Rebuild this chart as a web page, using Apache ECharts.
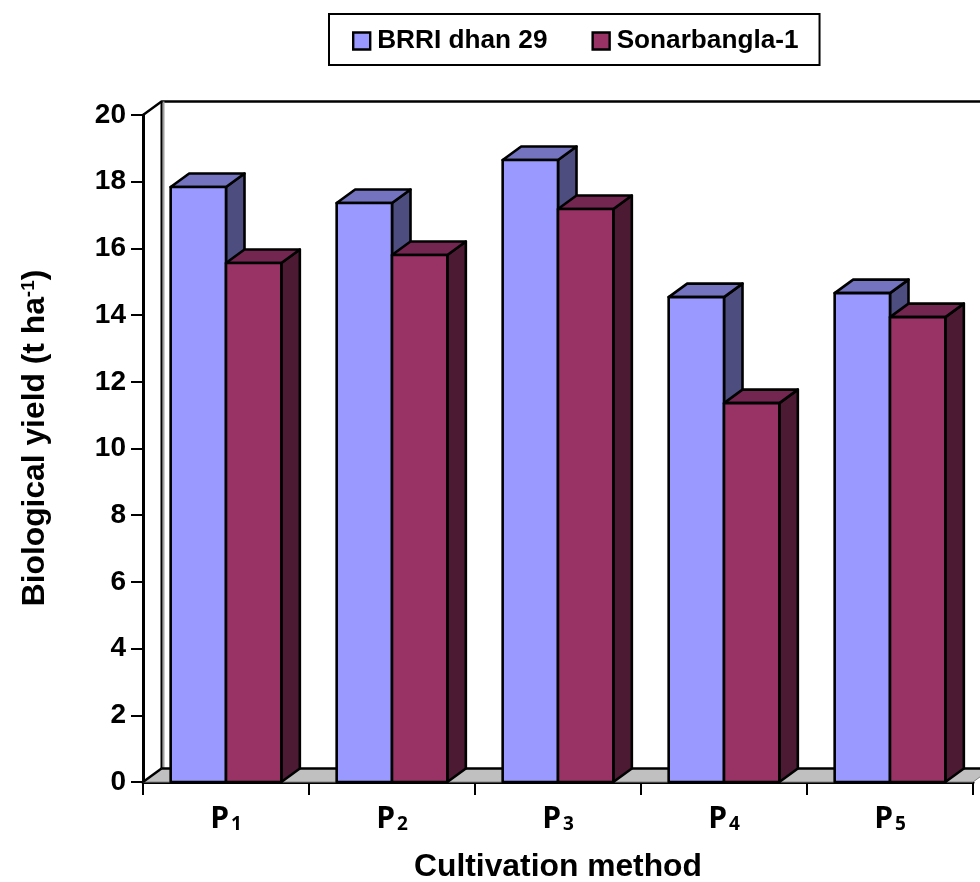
<!DOCTYPE html>
<html><head><meta charset="utf-8">
<style>html,body{margin:0;padding:0;background:#fff}#c{width:980px;height:882px}</style>
<script src="https://cdn.jsdelivr.net/npm/echarts@6/dist/echarts.min.js"></script>
</head><body><div id="c"></div>
<script>
const categories = ['P1','P2','P3','P4','P5'];
const brri = [17.84,17.36,18.65,14.54,14.66];
const sonar = [15.56,15.8,17.18,11.36,13.94];
const seriesNames = ['BRRI dhan 29','Sonarbangla-1'];
const DX = 18.5, DY = -13.5;
const FONT = '"Liberation Sans", Arial, sans-serif';

function box(side, front, top, dark) {
  return function (params, api) {
    const i = api.value(0);
    const p = api.coord([i, api.value(1)]);
    const b = api.coord([i, 0]);
    const w = api.size([1, 0])[0] / 3;
    const x0 = side < 0 ? p[0] - w : p[0];
    const x1 = x0 + w;
    const ln = {stroke:'#000', lineWidth:2.6, lineJoin:'round'};
    const poly = (pts, fill) => ({type:'polygon', shape:{points:pts}, style:Object.assign({fill}, ln)});
    return {type:'group', children:[
      poly([[x1,b[1]],[x1+DX,b[1]+DY],[x1+DX,p[1]+DY],[x1,p[1]]], dark),
      poly([[x0,p[1]],[x0+DX,p[1]+DY],[x1+DX,p[1]+DY],[x1,p[1]]], top),
      poly([[x0,b[1]],[x0,p[1]],[x1,p[1]],[x1,b[1]]], front)
    ]};
  };
}
function walls(params) {
  const r = params.coordSys;
  const L = r.x, T = r.y, B = r.y + r.height, R = r.x + r.width;
  const black = {stroke:'#000', lineWidth:2.4, fill:null, lineJoin:'round'};
  return {type:'group', children:[
    {type:'polygon', shape:{points:[[L,B],[L+DX,B+DY],[R+DX,B+DY],[R,B]]}, style:{fill:'#c0c0c0', stroke:'#808080', lineWidth:1}},
    {type:'polyline', shape:{points:[[L,T],[L+DX,T+DY],[R+DX+20,T+DY]]}, style:black},
    {type:'line', shape:{x1:L+DX+2,y1:T+DY,x2:L+DX+2,y2:B+DY}, style:{stroke:'#a0a0a0', lineWidth:2}},
    {type:'line', shape:{x1:L+DX,y1:T+DY,x2:L+DX,y2:B+DY}, style:{stroke:'#000', lineWidth:2}},
    {type:'line', shape:{x1:L+DX,y1:B+DY,x2:R+DX,y2:B+DY}, style:{stroke:'#000', lineWidth:2.4}},
    {type:'line', shape:{x1:L,y1:B,x2:L+DX,y2:B+DY}, style:{stroke:'#000', lineWidth:2.4}}
  ]};
}

const chart = echarts.init(document.getElementById('c'), null, {renderer:'canvas'});
chart.setOption({
  animation:false,
  backgroundColor:'#fff',
  legend:{
    data:seriesNames, left:329, top:14, icon:'rect',
    itemWidth:17, itemHeight:17, itemGap:44,
    padding:[12,21,9,23], borderColor:'#000', borderWidth:2,
    itemStyle:{borderColor:'#000', borderWidth:2.4},
    textStyle:{fontFamily:FONT, fontWeight:'bold', fontSize:26.2, color:'#000', lineHeight:30, padding:[0,0,0,2]},
    selectedMode:false
  },
  grid:{left:143, top:115, width:830, height:667, containLabel:false, outerBoundsMode:'none'},
  xAxis:{
    type:'category', data:categories,
    name:'Cultivation method', nameLocation:'middle', nameGap:69,
    nameTextStyle:{fontFamily:FONT, fontWeight:'bold', fontSize:31.8, color:'#000'},
    axisLine:{lineStyle:{color:'#000', width:3}},
    axisTick:{show:true, length:13, lineStyle:{color:'#000', width:2}},
    axisLabel:{
      margin:22, interval:0,
      formatter:v => '{p|' + v[0] + '}{s|' + v.slice(1) + '}',
      rich:{
        p:{fontFamily:'"Open Sans"', fontWeight:700, fontSize:30, color:'#000', verticalAlign:'bottom'},
        s:{fontFamily:'"Open Sans"', fontWeight:700, fontSize:19, color:'#000', verticalAlign:'bottom', padding:[0,0,0,2]}
      }
    }
  },
  yAxis:{
    type:'value', min:0, max:20, interval:2,
    name:'{t|Biological yield (t ha}{u|-1}{t|)}', nameLocation:'middle', nameGap:92, nameRotate:90,
    nameTextStyle:{
      padding:[0,0,0,21],
      rich:{
        t:{fontFamily:FONT, fontWeight:'bold', fontSize:31.8, color:'#000', verticalAlign:'bottom'},
        u:{fontFamily:FONT, fontWeight:'bold', fontSize:19, color:'#000', verticalAlign:'top'}
      }
    },
    axisLine:{show:true, lineStyle:{color:'#000', width:3}},
    axisTick:{show:true, length:12, lineStyle:{color:'#000', width:2}},
    axisLabel:{margin:17, fontFamily:FONT, fontWeight:'bold', fontSize:28, color:'#000'},
    splitLine:{show:false}
  },
  series:[
    {name:'walls', type:'custom', silent:true, clip:false, z:1, data:[[0,0]], encode:{x:0,y:1}, renderItem:walls},
    {name:seriesNames[0], type:'custom', clip:false, z:3, itemStyle:{color:'#9999ff'},
     data:brri.map((v,i)=>[i,v]), encode:{x:0,y:1}, renderItem:box(-1,'#9999ff','#7373bf','#4d4d80')},
    {name:seriesNames[1], type:'custom', clip:false, z:4, itemStyle:{color:'#993366'},
     data:sonar.map((v,i)=>[i,v]), encode:{x:0,y:1}, renderItem:box(1,'#993366','#732650','#4d1a33')}
  ]
});
</script></body></html>
